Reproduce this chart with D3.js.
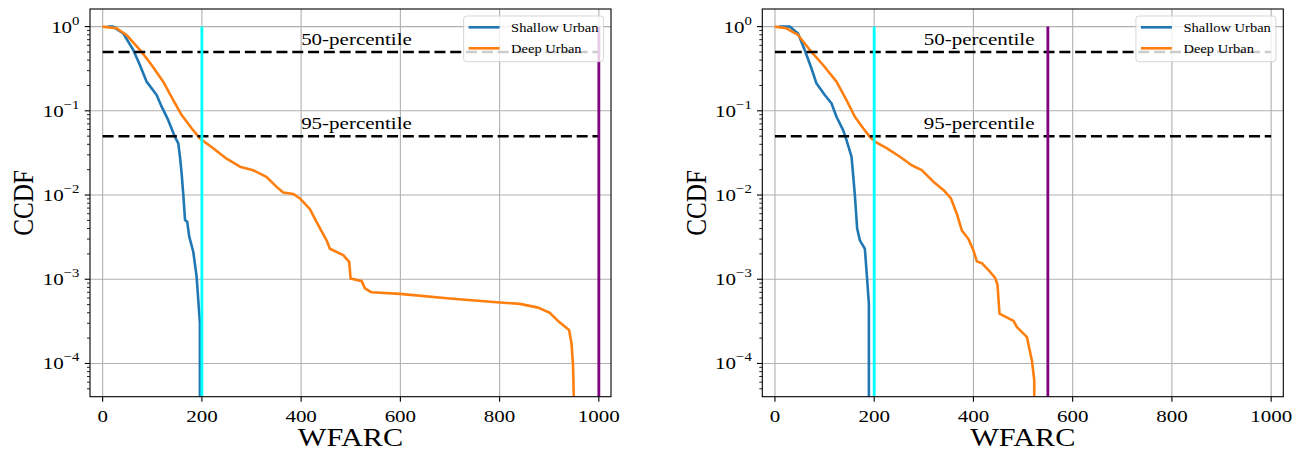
<!DOCTYPE html>
<html>
<head>
<meta charset="utf-8">
<script src="https://cdn.jsdelivr.net/npm/d3@7"></script>
<style>
body { margin: 0; background: white; }
svg text { font-family: "Liberation Serif", "Times New Roman", serif; }
</style>
</head>
<body>
<svg id="chart" width="1299" height="453"></svg>
<script>
const xTicks = [0, 200, 400, 600, 800, 1000]
const yExponents = [0, -1, -2, -3, -4]
const seriesNames = ["Shallow Urban", "Deep Urban"]
const seriesColors = ["#1f77b4", "#ff7f0e"]
const percentileValues = [0.5, 0.05]
const percentileLabels = ["50-percentile", "95-percentile"]
const percentileLabelY = [0.6, 0.06]

// left panel
const shallowLeftX = [10, 21, 41.5, 61.7, 75, 88.6, 108.8, 118.9, 132, 145.7, 152.4, 155.8, 159.2, 162.6, 166, 170.5, 174.5, 182.6, 189.4, 196, 196]
const shallowLeftY = [1, 1, 0.83, 0.527, 0.35, 0.222, 0.154, 0.112, 0.078, 0.049, 0.041, 0.0285, 0.018, 0.01, 0.00505, 0.0048, 0.0032, 0.00212, 0.00107, 0.0003, 0.00001]
const deepLeftX = [0, 28, 48, 78.6, 98.7, 122, 142.3, 159.2, 179.3, 196, 222.8, 249.8, 276.7, 303.4, 330, 350.6, 364, 384, 397.6, 417.7, 431, 451.3, 458, 485, 497, 499.7, 521.9, 528.5, 541.9, 599, 699.7, 800.5, 840.8, 877.7, 901, 917.7, 940, 944.9, 948, 949.5, 949.5]
const deepLeftY = [1, 0.955, 0.795, 0.5, 0.35, 0.222, 0.134, 0.089, 0.062, 0.047, 0.036, 0.027, 0.0217, 0.0197, 0.0164, 0.0125, 0.0107, 0.0103, 0.0091, 0.0068, 0.0048, 0.0029, 0.0023, 0.00193, 0.0016, 0.00102, 0.00095, 0.00078, 0.0007, 0.00067, 0.00059, 0.00053, 0.00051, 0.00046, 0.0004, 0.00032, 0.00025, 0.000173, 0.000095, 0.00004, 0.00001]
const vlineLeftX = [200, 1000]

// right panel
const shallowRightX = [8, 29.7, 46.5, 60, 73.5, 83.6, 100.4, 113.9, 124, 137.4, 144.2, 154.3, 158.5, 161, 165.7, 171.1, 181.2, 185.9, 189.3, 189.3]
const shallowRightY = [1, 1, 0.83, 0.527, 0.32, 0.212, 0.154, 0.123, 0.085, 0.059, 0.045, 0.0285, 0.015, 0.01, 0.004, 0.0029, 0.0023, 0.00098, 0.00051, 0.00001]
const deepRightX = [0, 23, 46.5, 73.5, 97, 124, 144.2, 161, 177.8, 191.3, 201.4, 225, 251.9, 275.6, 295.8, 319.2, 339.4, 354.3, 366.5, 376.6, 390, 400, 406.9, 417, 433.7, 443.8, 448.5, 452.5, 464, 480.8, 487.7, 507.9, 518, 522.6, 522.6]
const deepRightY = [1, 0.955, 0.795, 0.5, 0.35, 0.222, 0.134, 0.085, 0.062, 0.049, 0.043, 0.036, 0.0285, 0.0226, 0.0198, 0.0144, 0.0115, 0.0092, 0.006, 0.0038, 0.003, 0.0022, 0.00163, 0.00155, 0.00122, 0.00104, 0.00086, 0.00039, 0.00036, 0.00032, 0.00027, 0.000205, 0.000107, 0.000063, 0.00001]
const vlineRightX = [200, 550]

const vlineColors = ["#00ffff", "#800080"]

const svg = d3.select("#chart")

// the picture is a bit wider than tall compared with the font, stretch text a little
const stretch = 1.2

function stretchedText(g, x, y, size, anchor) {
    return g.append("text")
        .attr("transform", `translate(${x},${y}) scale(${stretch},1)`)
        .attr("font-family", "Liberation Serif")
        .attr("font-size", size)
        .attr("text-anchor", anchor)
}

function panel({ id, left, labelX, curves, vlines }) {
    const top = 9
    const width = 521
    const height = 387.7

    const x = d3.scaleLinear().domain([-25.5, 1024.5]).range([left, left + width])
    const y = d3.scaleLog().domain([4.03e-5, 1.618]).range([top + height, top])

    const g = svg.append("g")

    g.append("clipPath").attr("id", id)
        .append("rect")
        .attr("x", left).attr("y", top)
        .attr("width", width).attr("height", height)

    // grid
    g.append("g")
        .attr("stroke", "#b0b0b0")
        .attr("stroke-width", 1.1)
        .call(s => s.selectAll(".gx").data(xTicks).join("line")
            .attr("x1", d => x(d)).attr("x2", d => x(d))
            .attr("y1", top).attr("y2", top + height))
        .call(s => s.selectAll(".gy").data(yExponents).join("line")
            .attr("x1", left).attr("x2", left + width)
            .attr("y1", d => y(Math.pow(10, d))).attr("y2", d => y(Math.pow(10, d))))

    const line = d3.line().x(d => x(d[0])).y(d => y(d[1]))

    const plot = g.append("g").attr("clip-path", `url(#${id})`)

    plot.selectAll("path.curve")
        .data(curves)
        .join("path")
        .attr("class", "curve")
        .attr("fill", "none")
        .attr("stroke", (d, i) => seriesColors[i])
        .attr("stroke-width", 2.6)
        .attr("stroke-linejoin", "round")
        .attr("d", d => line(d.xs.map((v, i) => [v, d.ys[i]])))

    plot.selectAll("line.pct")
        .data(percentileValues)
        .join("line")
        .attr("class", "pct")
        .attr("x1", x(0)).attr("x2", x(1000))
        .attr("y1", d => y(d)).attr("y2", d => y(d))
        .attr("stroke", "black")
        .attr("stroke-width", 2.5)
        .attr("stroke-dasharray", "11,4.8")

    plot.selectAll("line.vl")
        .data(vlines)
        .join("line")
        .attr("class", "vl")
        .attr("x1", d => x(d)).attr("x2", d => x(d))
        .attr("y1", y(1)).attr("y2", top + height + 5)
        .attr("stroke", (d, i) => vlineColors[i])
        .attr("stroke-width", 2.8)

    percentileLabels.forEach((t, i) => {
        stretchedText(g, x(labelX), y(percentileLabelY[i]), 17.5, "start").text(t)
    })

    // legend
    const legW = 140, legH = 45.7
    const legX = left + width - 7.4 - legW
    const legY = top + 7
    const leg = g.append("g")
    leg.append("rect")
        .attr("x", legX).attr("y", legY)
        .attr("width", legW).attr("height", legH)
        .attr("rx", 3)
        .attr("fill", "white").attr("fill-opacity", 0.8)
        .attr("stroke", "#cccccc").attr("stroke-opacity", 0.8)
        .attr("stroke-width", 1)
    seriesNames.forEach((name, i) => {
        const ly = legY + 11.3 + i * 21
        leg.append("line")
            .attr("x1", legX + 5).attr("x2", legX + 36)
            .attr("y1", ly).attr("y2", ly)
            .attr("stroke", seriesColors[i])
            .attr("stroke-width", 2.6)
        stretchedText(leg, legX + 47.5, ly + 4.5, 12.1, "start").text(name)
    })

    // spines
    g.append("rect")
        .attr("x", left).attr("y", top)
        .attr("width", width).attr("height", height)
        .attr("fill", "none")
        .attr("stroke", "black")
        .attr("stroke-width", 1.1)

    // x ticks
    g.append("g")
        .attr("stroke", "black")
        .attr("stroke-width", 1.1)
        .selectAll("line")
        .data(xTicks)
        .join("line")
        .attr("x1", d => x(d)).attr("x2", d => x(d))
        .attr("y1", top + height).attr("y2", top + height + 5)
    xTicks.forEach(t => {
        stretchedText(g, x(t), 422, 17.5, "middle").text(t)
    })

    // y ticks, major and minor
    const minor = []
    for (let e = -5; e <= 0; e++)
        for (let k = 2; k <= 9; k++) {
            const v = k * Math.pow(10, e)
            if (v >= y.domain()[0] && v <= y.domain()[1]) minor.push(v)
        }
    g.append("g")
        .attr("stroke", "black")
        .attr("stroke-width", 0.85)
        .selectAll("line")
        .data(minor)
        .join("line")
        .attr("x1", left - 3).attr("x2", left)
        .attr("y1", d => y(d)).attr("y2", d => y(d))
    g.append("g")
        .attr("stroke", "black")
        .attr("stroke-width", 1.1)
        .selectAll("line")
        .data(yExponents)
        .join("line")
        .attr("x1", left - 5.3).attr("x2", left)
        .attr("y1", d => y(Math.pow(10, d))).attr("y2", d => y(Math.pow(10, d)))
    yExponents.forEach(e => {
        const t = stretchedText(g, left - 10.5, y(Math.pow(10, e)) + 6, 17.5, "end")
        t.append("tspan").text("10")
        t.append("tspan")
            .attr("font-size", 12.3)
            .attr("dy", -8)
            .text(e < 0 ? "\u2212" + (-e) : e)
    })

    // axis labels
    stretchedText(g, left + width / 2, 446, 25.2, "middle").text("WFARC")
    g.append("text")
        .attr("transform", `translate(${left - 56.7},${top + height / 2}) scale(${stretch},1) rotate(-90)`)
        .attr("font-family", "Liberation Serif")
        .attr("font-size", 25.2)
        .attr("text-anchor", "middle")
        .text("CCDF")
}

panel({
    id: "clipLeft",
    left: 90,
    labelX: 400,
    curves: [{ xs: shallowLeftX, ys: shallowLeftY }, { xs: deepLeftX, ys: deepLeftY }],
    vlines: vlineLeftX
})

panel({
    id: "clipRight",
    left: 762.3,
    labelX: 300,
    curves: [{ xs: shallowRightX, ys: shallowRightY }, { xs: deepRightX, ys: deepRightY }],
    vlines: vlineRightX
})
</script>
</body>
</html>
